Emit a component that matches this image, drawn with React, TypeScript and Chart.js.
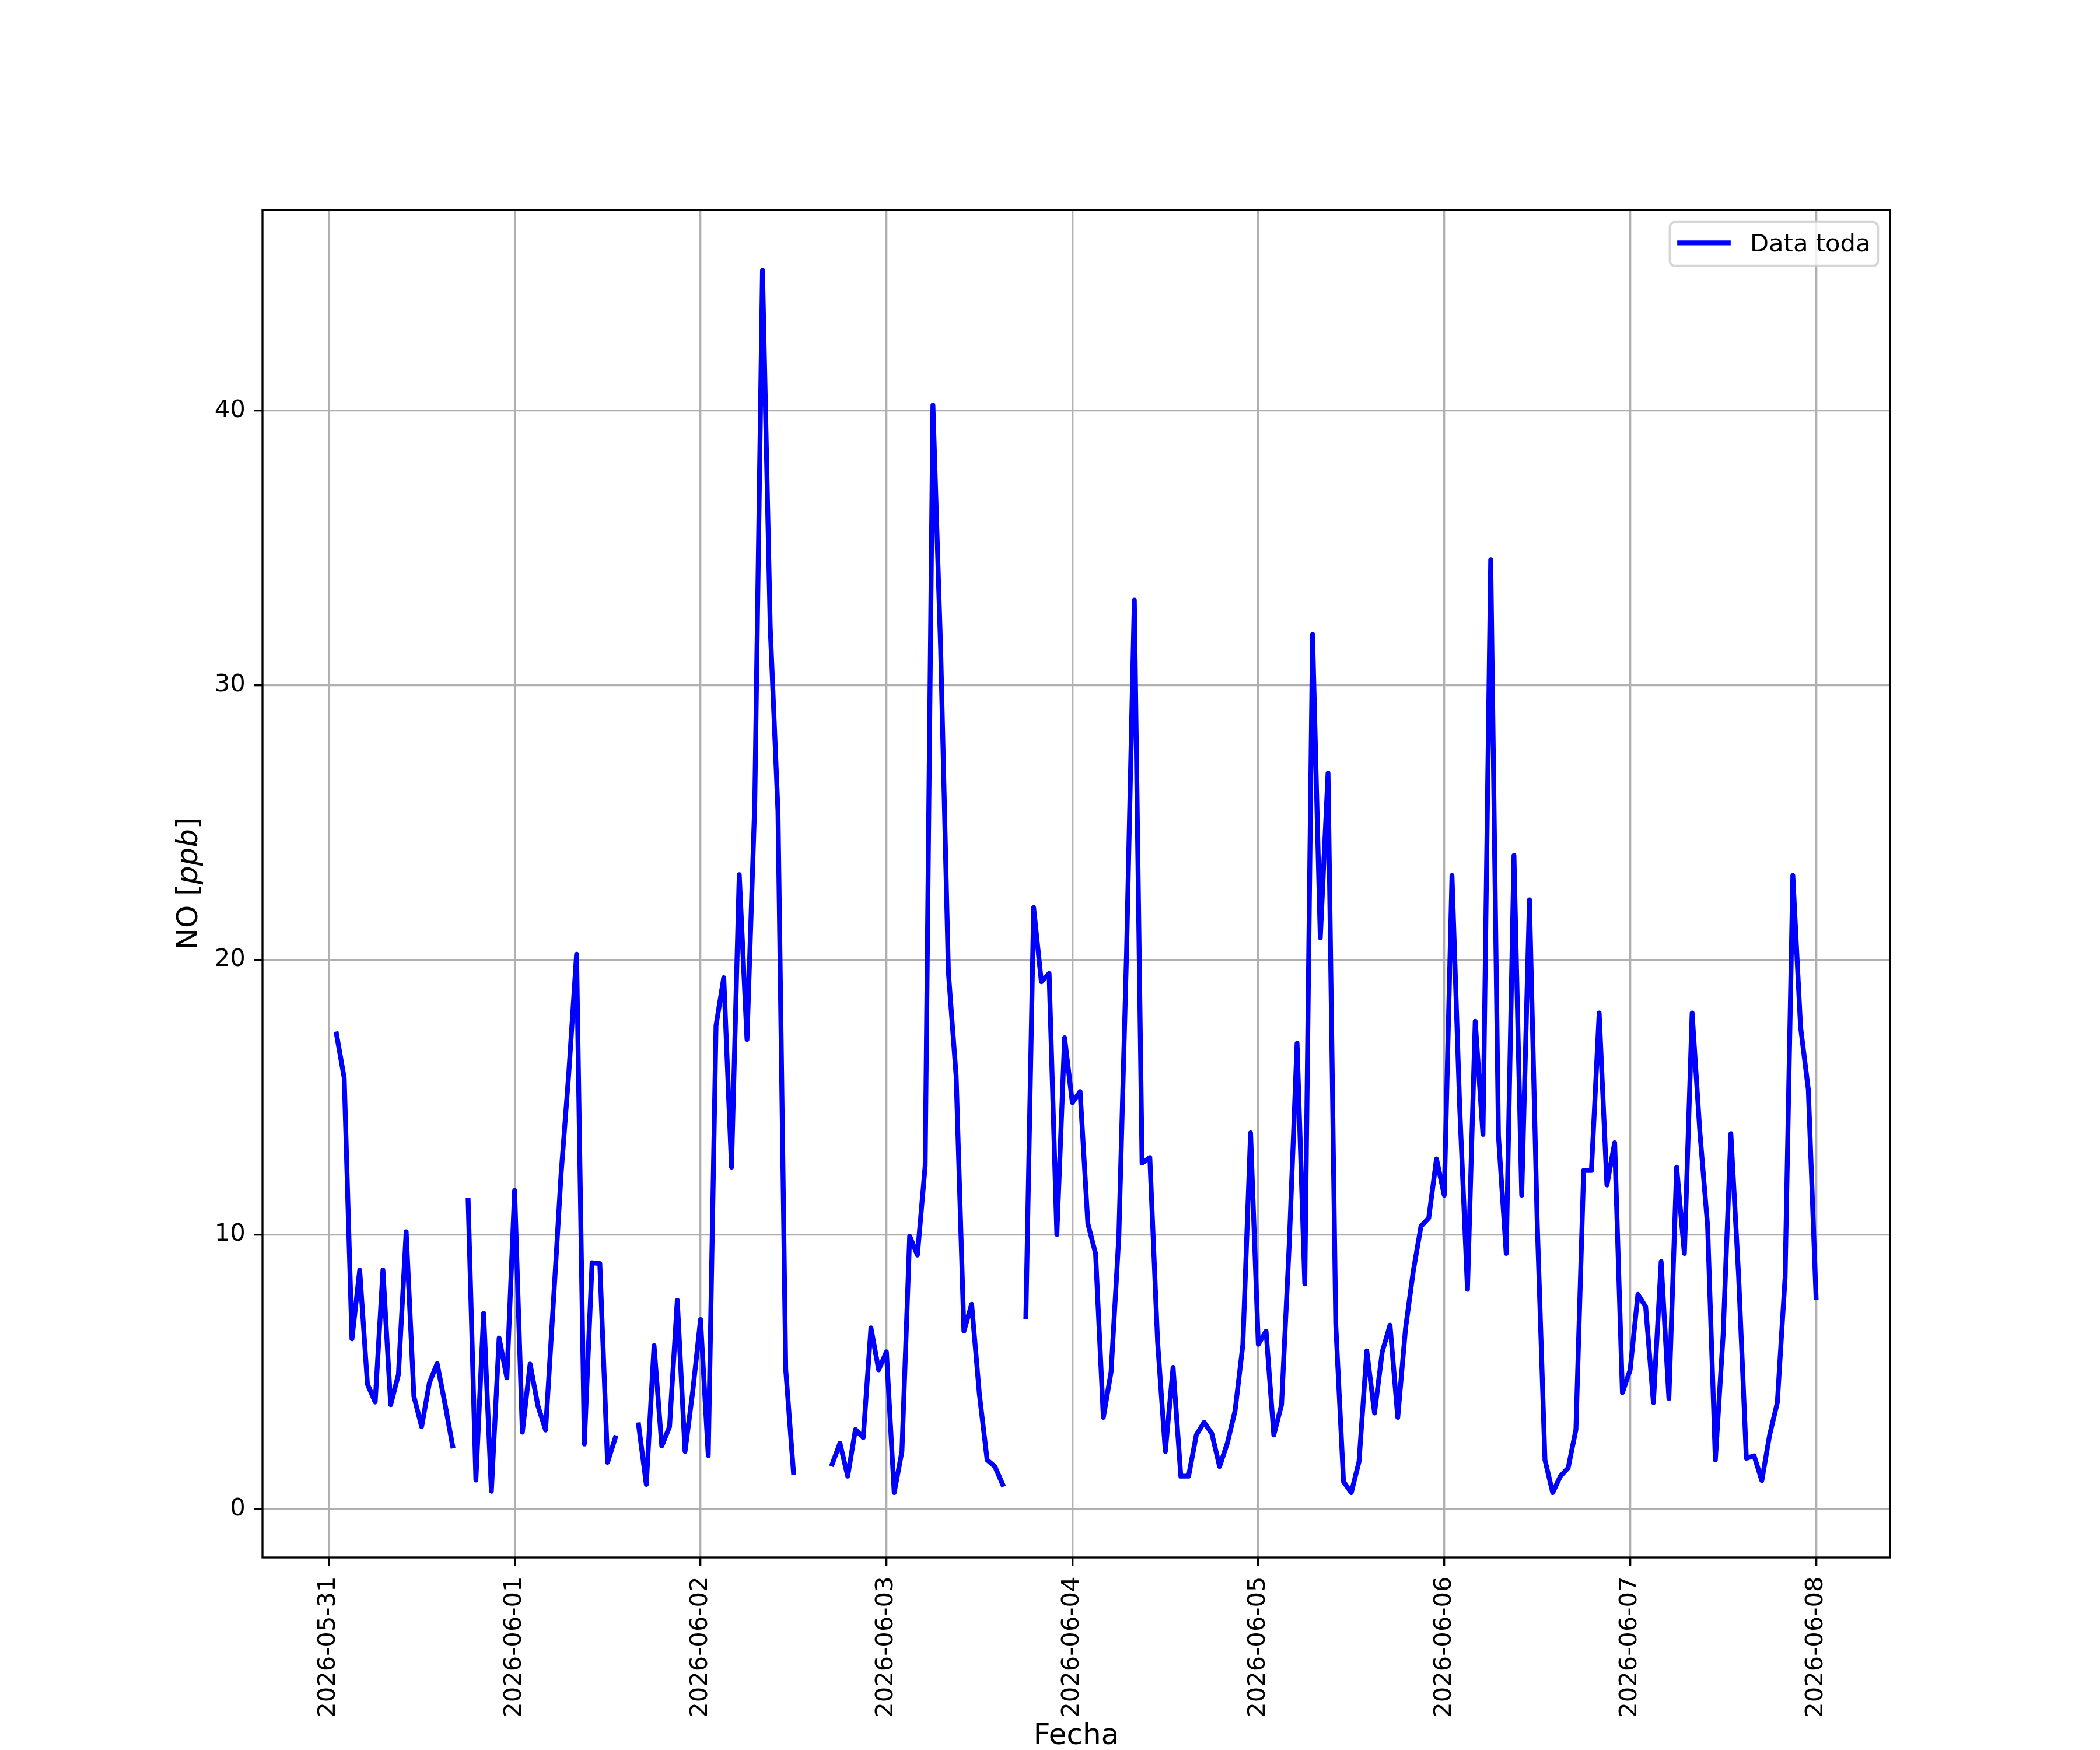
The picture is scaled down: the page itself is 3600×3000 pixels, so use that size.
import { useEffect, useRef } from 'react';
import { Chart, registerables } from 'chart.js';

Chart.register(...registerables);

// hourly NO readings [ppb], one array per day starting at 00:00 (null = missing hour)
const MAY_31 = [
  null, 17.3, 15.7, 6.2, 8.7, 4.55, 3.9, 8.7, 3.8, 4.9, 10.1, 4.1,
  3.0, 4.6, 5.3, 3.85, 2.3, null, 11.25, 1.06, 7.13, 0.65, 6.23, 4.78,
];
const JUN_01 = [
  11.6, 2.8, 5.28, 3.77, 2.88, 7.5, 12.2, 15.9, 20.2, 2.37, 8.97, 8.94,
  1.7, 2.6, null, null, 3.07, 0.9, 5.95, 2.3, 3.0, 7.6, 2.1, 4.3,
];
const JUN_02 = [
  6.9, 1.95, 17.6, 19.35, 12.45, 23.1, 17.1, 25.7, 45.1, 32.1, 25.4, 5.07,
  1.34, null, null, null, null, 1.64, 2.4, 1.2, 2.9, 2.6, 6.6, 5.07,
];
const JUN_03 = [
  5.73, 0.6, 2.1, 9.94, 9.25, 12.5, 40.2, 31.3, 19.55, 15.76, 6.48, 7.46,
  4.18, 1.79, 1.55, 0.9, null, null, 7.0, 21.9, 19.2, 19.5, 10.0, 17.16,
];
const JUN_04 = [
  14.8, 15.2, 10.4, 9.3, 3.34, 5.0, 9.94, 20.3, 33.1, 12.6, 12.8, 6.1,
  2.1, 5.16, 1.2, 1.2, 2.7, 3.16, 2.75, 1.55, 2.4, 3.58, 5.97, 13.7,
];
const JUN_05 = [
  6.0, 6.48, 2.7, 3.8, 9.7, 16.96, 8.2, 31.85, 20.8, 26.8, 6.7, 1.0,
  0.6, 1.73, 5.76, 3.5, 5.73, 6.7, 3.34, 6.57, 8.66, 10.3, 10.6, 12.75,
];
const JUN_06 = [
  11.43, 23.07, 14.6, 8.0, 17.76, 13.64, 34.57, 13.58, 9.31, 23.8, 11.43, 22.18,
  10.45, 1.79, 0.6, 1.2, 1.5, 2.9, 12.33, 12.33, 18.06, 11.8, 13.34, 4.24,
];
const JUN_07 = [
  5.07, 7.82, 7.37, 3.88, 9.01, 4.03, 12.45, 9.31, 18.06, 13.73, 10.3, 1.79,
  6.33, 13.67, 8.5, 1.85, 1.94, 1.04, 2.69, 3.88, 8.42, 23.07, 17.55, 15.28,
];
const JUN_08 = [7.7];

const DATE_LABELS = [
  '2026-05-31', '2026-06-01', '2026-06-02', '2026-06-03', '2026-06-04',
  '2026-06-05', '2026-06-06', '2026-06-07', '2026-06-08',
];
const TICK_HOURS = [0, 24, 48, 72, 96, 120, 144, 168, 192];
const Y_TICKS = [0, 10, 20, 30, 40];

const SERIES_LABEL = 'Data toda';
const X_TITLE = 'Fecha';
const Y_TITLE: [string, boolean][] = [['NO [', false], ['ppb', true], [']', false]];

const FONT = "'DejaVu Sans'";
const PT = 300 / 72; // matplotlib points -> px at 300 dpi

const mplDecor = {
  id: 'mplDecor',
  afterDatasetsDraw(chart: Chart) {
    const { ctx, chartArea: a } = chart;
    ctx.save();
    ctx.strokeStyle = '#000';
    ctx.lineWidth = 0.8 * PT;
    ctx.lineCap = 'square';
    ctx.strokeRect(a.left, a.top, a.right - a.left, a.bottom - a.top);
    ctx.restore();
  },
  afterDraw(chart: Chart) {
    const { ctx, chartArea: a } = chart;
    ctx.save();

    // legend
    const fs = 10 * PT;
    ctx.font = `${fs}px ${FONT}`;
    const label = (chart.data.datasets[0].label as string) || '';
    const textW = ctx.measureText(label).width;
    const pad = 0.4 * fs;
    const handle = 2 * fs;
    const gap = 0.8 * fs;
    const boxW = pad + handle + gap + textW + pad;
    const boxH = 75;
    const bx = a.right - 0.5 * fs - boxW;
    const by = a.top + 0.5 * fs;
    const r = 8;
    ctx.beginPath();
    ctx.moveTo(bx + r, by);
    ctx.lineTo(bx + boxW - r, by);
    ctx.arcTo(bx + boxW, by, bx + boxW, by + r, r);
    ctx.lineTo(bx + boxW, by + boxH - r);
    ctx.arcTo(bx + boxW, by + boxH, bx + boxW - r, by + boxH, r);
    ctx.lineTo(bx + r, by + boxH);
    ctx.arcTo(bx, by + boxH, bx, by + boxH - r, r);
    ctx.lineTo(bx, by + r);
    ctx.arcTo(bx, by, bx + r, by, r);
    ctx.closePath();
    ctx.fillStyle = 'rgba(255,255,255,0.8)';
    ctx.fill();
    ctx.strokeStyle = 'rgba(204,204,204,0.8)';
    ctx.lineWidth = 1 * PT;
    ctx.stroke();

    ctx.beginPath();
    ctx.strokeStyle = '#0000ff';
    ctx.lineWidth = 2 * PT;
    ctx.lineCap = 'square';
    ctx.moveTo(bx + pad, by + 35.5);
    ctx.lineTo(bx + pad + handle, by + 35.5);
    ctx.stroke();

    ctx.fillStyle = '#000';
    ctx.textAlign = 'left';
    ctx.textBaseline = 'alphabetic';
    ctx.fillText(label, bx + pad + handle + gap + 4, by + 50.3);

    // axis titles
    const ls = 12 * PT;
    ctx.font = `${ls}px ${FONT}`;
    ctx.textAlign = 'center';
    ctx.fillText(X_TITLE, (a.left + a.right) / 2, a.bottom + 320);

    ctx.translate(a.left - 112, (a.top + a.bottom) / 2);
    ctx.rotate(-Math.PI / 2);
    ctx.textAlign = 'left';
    const fonts = Y_TITLE.map(([, it]) => `${it ? 'oblique ' : ''}${ls}px ${FONT}`);
    const widths = Y_TITLE.map(([t], i) => {
      ctx.font = fonts[i];
      return ctx.measureText(t).width;
    });
    let x = -widths.reduce((s, w) => s + w, 0) / 2;
    Y_TITLE.forEach(([t], i) => {
      ctx.font = fonts[i];
      ctx.fillText(t, x, 0);
      x += widths[i];
    });
    ctx.restore();
  },
};

export default function App() {
  const canvasRef = useRef<HTMLCanvasElement>(null);

  useEffect(() => {
    document.body.style.margin = '0';
    if (!canvasRef.current) return;

    const values = [...MAY_31, ...JUN_01, ...JUN_02, ...JUN_03, ...JUN_04, ...JUN_05, ...JUN_06, ...JUN_07, ...JUN_08];
    const points = values.map((y, hour) => ({ x: hour, y }));

    const gridOpts = {
      color: '#b0b0b0',
      lineWidth: 0.8 * PT,
      tickLength: 3.5 * PT,
      tickColor: '#000',
      tickWidth: 0.8 * PT,
    };
    const tickFont = { family: FONT, size: 10 * PT };

    const chart = new Chart(canvasRef.current, {
      type: 'line',
      data: {
        datasets: [
          {
            label: SERIES_LABEL,
            data: points,
            borderColor: '#0000ff',
            borderWidth: 2 * PT,
            borderCapStyle: 'square',
            borderJoinStyle: 'round',
            pointRadius: 0,
            tension: 0,
            spanGaps: false,
          },
        ],
      },
      options: {
        responsive: false,
        animation: false,
        devicePixelRatio: 1,
        layout: { padding: { left: 0, right: 360, top: 360, bottom: 0 } },
        scales: {
          x: {
            type: 'linear',
            min: -8.55,
            max: 201.55,
            afterBuildTicks: (s) => {
              s.ticks = TICK_HOURS.map((value) => ({ value }));
            },
            afterFit: (s) => {
              s.height = 330;
            },
            ticks: {
              autoSkip: false,
              minRotation: 90,
              maxRotation: 90,
              padding: 18,
              color: '#000',
              font: tickFont,
              callback: (v) => {
                const i = TICK_HOURS.indexOf(Number(v));
                return i >= 0 ? DATE_LABELS[i] : '';
              },
            },
            grid: gridOpts,
            border: { display: false },
          },
          y: {
            type: 'linear',
            min: -1.76,
            max: 47.3,
            afterBuildTicks: (s) => {
              s.ticks = Y_TICKS.map((value) => ({ value }));
            },
            afterFit: (s) => {
              s.width = 450;
            },
            ticks: {
              padding: 3.5 * PT,
              color: '#000',
              font: tickFont,
              callback: (v) => String(v),
            },
            grid: gridOpts,
            border: { display: false },
          },
        },
        plugins: {
          legend: { display: false },
          tooltip: { enabled: false },
        },
      },
      plugins: [mplDecor],
    });

    return () => chart.destroy();
  }, []);

  return (
    <div style={{ width: 3600, height: 3000, background: '#fff' }}>
      <canvas ref={canvasRef} width={3600} height={3000} style={{ display: 'block', width: 3600, height: 3000 }} />
    </div>
  );
}
